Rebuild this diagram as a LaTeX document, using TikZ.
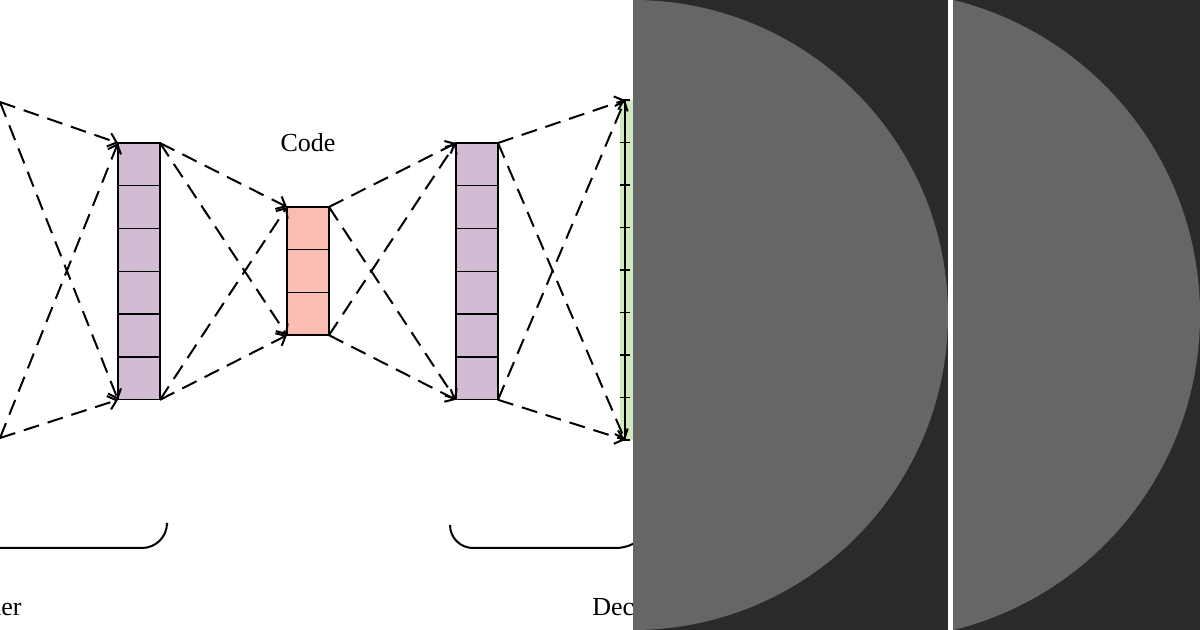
\documentclass[tikz,border=0pt]{standalone}
\usepackage{fontspec}
\setmainfont{Liberation Serif}
\usetikzlibrary{arrows.meta}
\definecolor{purp}{HTML}{D1BCD3}
\definecolor{redc}{HTML}{FBBCB2}
\definecolor{grn}{HTML}{D2E8C0}
\definecolor{dark}{HTML}{2A2A2A}
\definecolor{mid}{HTML}{666666}
\tikzset{
 cell/.style={draw=black, line width=0.7pt, minimum width=21pt, minimum height=21.4pt, inner sep=0pt, outer sep=0pt},
 conn/.style={dash pattern=on 8pt off 4.5pt, line width=1pt, -{Straight Barb[length=4pt,width=7pt]}},
 lbl/.style={font=\fontsize{13}{15}\selectfont, inner sep=0pt}
}
\begin{document}
\begin{tikzpicture}[x=0.5pt,y=-0.5pt]
\useasboundingbox (0,0) rectangle (1200,630);
% green layer
\fill[grn] (620,100) rectangle (640,440);
\draw[line width=0.7pt] (625,100) -- (625,440);
\foreach \i in {0,...,8} \draw[line width=0.7pt] (620,{100+42.5*\i}) -- (630,{100+42.5*\i});
\coordinate (g1) at (625,100);
\coordinate (g2) at (625,440);
\coordinate (i1) at (0,102);
\coordinate (i2) at (0,438);
\foreach \i in {1,...,6} \node[cell, fill=purp, anchor=north west] (p\i) at (118,{143+42.8*(\i-1)}) {};
\foreach \i in {1,...,6} \node[cell, fill=purp, anchor=north west] (q\i) at (456,{143+42.8*(\i-1)}) {};
\foreach \i in {1,...,3} \node[cell, fill=redc, anchor=north west] (r\i) at (287,{207+42.7*(\i-1)}) {};
\node[lbl] (code) at (308,143) {Code};
% connectors
\draw[conn] (i1) -- (p1.north west);
\draw[conn] (i2) -- (p6.south west);
\draw[conn] (i1) -- (p6.south west);
\draw[conn] (i2) -- (p1.north west);
\draw[conn] (p1.north east) -- (r1.north west);
\draw[conn] (p6.south east) -- (r3.south west);
\draw[conn] (p1.north east) -- (r3.south west);
\draw[conn] (p6.south east) -- (r1.north west);
\draw[conn] (r1.north east) -- (q1.north west);
\draw[conn] (r3.south east) -- (q6.south west);
\draw[conn] (r1.north east) -- (q6.south west);
\draw[conn] (r3.south east) -- (q1.north west);
\draw[conn] (q1.north east) -- (g1);
\draw[conn] (q6.south east) -- (g2);
\draw[conn] (q1.north east) -- (g2);
\draw[conn] (q6.south east) -- (g1);
% braces
\coordinate (b1) at (167,525);
\coordinate (b2) at (450,525);
\draw[line width=1pt] (0,548) -- (142,548) arc[start angle=90, end angle=0, radius=25] -- (b1);
\draw[line width=1pt] (b2) arc[start angle=180, end angle=90, radius=23] -- (615,548) to[out=0,in=210] (640,540);
\node[lbl, anchor=base east] (enc) at (22,616) {Encoder};
\node[lbl, anchor=base west] (dec) at (592,616) {Decoder};
% right panels
\fill[dark] (633,0) rectangle (1200,630);
\begin{scope}
\clip (633,0) rectangle (948,630);
\fill[mid] (633,315) circle[radius=315];
\end{scope}
\begin{scope}
\clip (953,0) rectangle (1200,630);
\fill[mid] (875.6,315) circle[radius=324.4];
\end{scope}
\fill[white] (948,0) rectangle (953,630);
\end{tikzpicture}
\end{document}
